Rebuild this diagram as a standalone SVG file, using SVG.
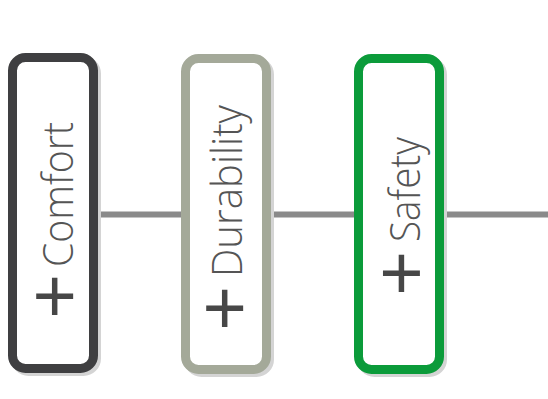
<svg xmlns="http://www.w3.org/2000/svg" width="548" height="399" viewBox="0 0 548 399">
<style>
.shadow{fill:none;stroke:#d4d4d4;stroke-width:9}
.box{fill:#ffffff;stroke-width:9}
.label{font-family:"Open Sans","Liberation Sans",sans-serif;font-weight:300;font-size:42px;fill:#555555}
.plus{font-family:"Liberation Sans",Arial,sans-serif;font-size:76px;fill:#474747;text-anchor:middle}
.conn{stroke:#8a8a8a;stroke-width:6;fill:none}
</style>
<rect width="548" height="399" fill="#ffffff"/>
<g id="connectors">
<line class="conn" x1="94" y1="214.5" x2="186" y2="214.5"/>
<line class="conn" x1="266" y1="214.5" x2="359" y2="214.5"/>
<line class="conn" x1="440" y1="214.5" x2="548" y2="214.5"/>
</g>
<g id="comfort">
<rect class="shadow" x="15.5" y="60.5" width="81" height="311" rx="13"/>
<rect class="box" x="12.5" y="57.5" width="81" height="311" rx="13" stroke="#3f3f41"/>
<text class="plus" x="54.7" y="322.3">+</text>
<text class="label" transform="translate(73,267) rotate(-90)" textLength="145" lengthAdjust="spacingAndGlyphs">Comfort</text>
</g>
<g id="durability">
<rect class="shadow" x="188.5" y="61.5" width="81" height="311" rx="13"/>
<rect class="box" x="185.5" y="58.5" width="81" height="311" rx="13" stroke="#a4a999"/>
<text class="plus" x="224.7" y="334.3">+</text>
<text class="label" transform="translate(242,277) rotate(-90)" textLength="172" lengthAdjust="spacingAndGlyphs">Durability</text>
</g>
<g id="safety">
<rect class="shadow" x="361.5" y="61.5" width="81" height="311" rx="13"/>
<rect class="box" x="358.5" y="58.5" width="81" height="311" rx="13" stroke="#0b9b3a"/>
<text class="plus" x="401.5" y="298.8">+</text>
<text class="label" transform="translate(420,242) rotate(-90)" textLength="105" lengthAdjust="spacingAndGlyphs">Safety</text>
</g>
</svg>
